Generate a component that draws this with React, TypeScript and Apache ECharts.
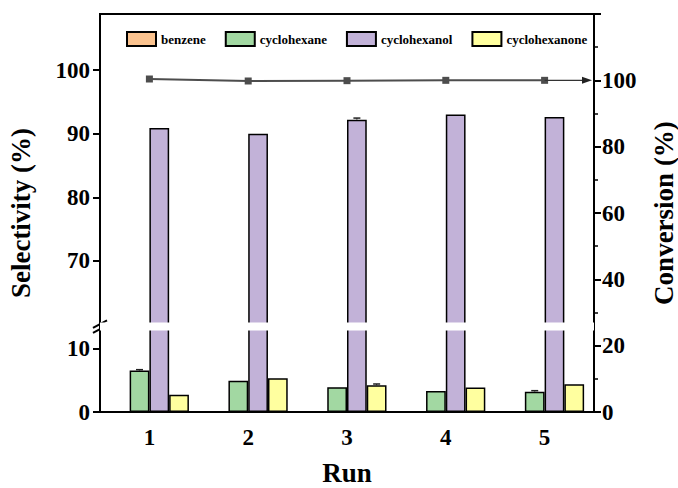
import React, { useEffect, useRef } from 'react';
import * as echarts from 'echarts';

const runs = ['1', '2', '3', '4', '5'];
const benzene = [0, 0, 0, 0, 0];
const cyclohexane = [6.5, 4.9, 3.9, 3.3, 3.2];
const cyclohexanol = [90.9, 90.0, 92.2, 93.0, 92.6];
const cyclohexanone = [2.7, 5.3, 4.2, 3.85, 4.35];
const conversion = [100.4, 99.8, 99.9, 100, 100];
const errCyclohexane = [0.15, 0, 0, 0, 0.15];
const errCyclohexanol = [0, 0, 0.25, 0, 0];
const errCyclohexanone = [0, 0, 0.2, 0, 0];
const selectivityTicks = [0, 10, 70, 80, 90, 100];
const conversionTicks = [0, 20, 40, 60, 80, 100];

const FONT = '"Liberation Serif", "Times New Roman", serif';
const colors = ['#fbc38f', '#a2d8a2', '#c2b2d8', '#ffff9f'];

export default function App() {
  const ref = useRef<HTMLDivElement>(null);
  useEffect(() => {
    if (!ref.current) return;
    const chart = echarts.init(ref.current, undefined, { renderer: 'svg' });
    const barStyle = (c: string) => ({ color: c, borderColor: '#000', borderWidth: 1.5 });
    const errData: any[] = [];
    [errCyclohexane, errCyclohexanol, errCyclohexanone].forEach((arr, k) => {
      const vals = [cyclohexane, cyclohexanol, cyclohexanone][k];
      arr.forEach((e, i) => {
        if (e > 0) errData.push([i, vals[i], e, k + 1]);
      });
    });
    const labelFont = { fontFamily: FONT, fontWeight: 'bold', fontSize: 23, color: '#000' };
    const option: any = {
      animation: false,
      backgroundColor: '#fff',
      textStyle: { fontFamily: FONT },
      grid: {
        left: 100, right: 84, top: 14, bottom: 76, show: true, borderColor: '#000', borderWidth: 2,
        backgroundColor: 'transparent', containLabel: false, outerBoundsMode: 'none',
      },
      legend: {
        data: ['benzene', 'cyclohexane', 'cyclohexanol', 'cyclohexanone'],
        left: 121, top: 26, itemWidth: 29, itemHeight: 14, itemGap: 19,
        icon: 'rect',
        textStyle: { fontFamily: FONT, fontWeight: 'bold', fontSize: 13, color: '#000' },
      },
      xAxis: [
        {
          type: 'category', data: runs, position: 'bottom',
          axisLine: { lineStyle: { color: '#000', width: 2 } },
          axisTick: { alignWithLabel: true, length: 7, lineStyle: { width: 2, color: '#000' } },
          axisLabel: { ...labelFont, margin: 14 },
          name: 'Run', nameLocation: 'middle', nameGap: 47,
          nameTextStyle: { fontFamily: FONT, fontWeight: 'bold', fontSize: 27, color: '#000' },
        },
        {
          type: 'category', data: runs, position: 'bottom',
          axisLine: { show: false },
          axisTick: { alignWithLabel: false, length: 4, lineStyle: { width: 1.5, color: '#000' } },
          axisLabel: { show: false },
        },
      ],
      yAxis: [
        {
          type: 'value', min: 0, max: 108.8, interval: 10, position: 'left',
          breaks: [{ start: 12.9, end: 60.3, gap: '1.8%' }],
          breakArea: {
            show: true, expandOnClick: false, zigzagAmplitude: 0,
            itemStyle: { color: '#fff', borderColor: '#fff', borderWidth: 0, opacity: 1 },
          },
          axisLine: { show: true, lineStyle: { color: '#000', width: 2 } },
          axisTick: { show: true, length: 7, customValues: selectivityTicks, lineStyle: { width: 2, color: '#000' } },
          axisLabel: { customValues: selectivityTicks, ...labelFont, margin: 10 },
          splitLine: { show: false },
          name: 'Selectivity (%)', nameLocation: 'middle', nameGap: 66,
          nameTextStyle: { fontFamily: FONT, fontWeight: 'bold', fontSize: 27, color: '#000' },
        },
        {
          type: 'value', min: 0, max: 120, interval: 20, position: 'right', z: 20,
          axisLine: { show: true, lineStyle: { color: '#000', width: 2 } },
          axisTick: { show: true, length: 7, lineStyle: { width: 2, color: '#000' } },
          minorTick: { show: true, splitNumber: 2, length: 4, lineStyle: { width: 1.5, color: '#000' } },
          axisLabel: {
            formatter: (v: number) => (conversionTicks.includes(v) ? String(v) : ''),
            ...labelFont, margin: 8,
          },
          splitLine: { show: false },
          name: 'Conversion (%)', nameLocation: 'middle', nameGap: 56, nameRotate: 90,
          nameTextStyle: { fontFamily: FONT, fontWeight: 'bold', fontSize: 27, color: '#000' },
        },
      ],
      series: [
        { name: 'benzene', type: 'bar', data: benzene, itemStyle: barStyle(colors[0]), barGap: '0%', barCategoryGap: '20%' },
        { name: 'cyclohexane', type: 'bar', data: cyclohexane, itemStyle: barStyle(colors[1]) },
        { name: 'cyclohexanol', type: 'bar', data: cyclohexanol, itemStyle: barStyle(colors[2]) },
        { name: 'cyclohexanone', type: 'bar', data: cyclohexanone, itemStyle: barStyle(colors[3]) },
        {
          name: 'error', type: 'custom', data: errData, z: 5,
          renderItem: (params: any, api: any) => {
            const idx = api.value(0), val = api.value(1), err = api.value(2), slot = api.value(3);
            const bw = (api.size([1, 0])[0] * 0.8) / 4;
            const c = api.coord([idx, val]);
            const hi = api.coord([idx, val + err]);
            const x = c[0] + (slot - 1.5) * bw;
            const half = 3.5;
            return {
              type: 'group',
              children: [
                { type: 'line', shape: { x1: x, y1: c[1], x2: x, y2: hi[1] }, style: { stroke: '#222', lineWidth: 1 } },
                { type: 'line', shape: { x1: x - half, y1: hi[1], x2: x + half, y2: hi[1] }, style: { stroke: '#222', lineWidth: 1.5 } },
              ],
            };
          },
        },
        {
          name: 'Conversion', type: 'line', yAxisIndex: 1, data: conversion, z: 10,
          symbol: 'rect', symbolSize: 7,
          lineStyle: { color: '#4d4d4d', width: 2 },
          itemStyle: { color: '#4d4d4d' },
        },
      ],
    };
    chart.setOption(option);
    const last = chart.convertToPixel({ xAxisIndex: 0, yAxisIndex: 1 }, [4, conversion[4]]) as number[];
    const yb = chart.convertToPixel({ yAxisIndex: 0 }, 12.9) as number;
    const yt = chart.convertToPixel({ yAxisIndex: 0 }, 60.3) as number;
    const ym = (yb + yt) / 2;
    const xr = 678 - 84;
    chart.setOption({
      graphic: [
        { type: 'line', shape: { x1: last[0], y1: last[1], x2: xr - 6, y2: last[1] }, style: { stroke: '#333', lineWidth: 1.2 }, z: 20 },
        { type: 'polygon', shape: { points: [[xr - 2, last[1]], [xr - 12, last[1] - 3.5], [xr - 12, last[1] + 3.5]] }, style: { fill: '#222' }, z: 20 },
        { type: 'line', shape: { x1: 93, y1: ym + 1.5, x2: 107, y2: ym - 6 }, style: { stroke: '#000', lineWidth: 2 }, z: 20 },
        { type: 'line', shape: { x1: 93, y1: ym + 6.5, x2: 107, y2: ym - 1 }, style: { stroke: '#000', lineWidth: 2 }, z: 20 },
      ],
    });
    return () => chart.dispose();
  }, []);
  return <div ref={ref} style={{ position: 'fixed', left: 0, top: 0, width: 678, height: 488 }} />;
}
